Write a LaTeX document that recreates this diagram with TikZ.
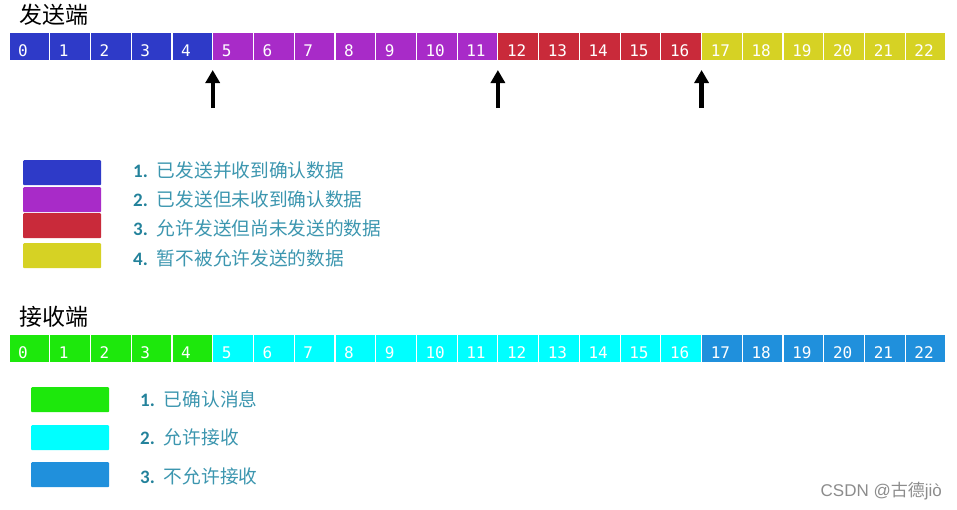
\documentclass[tikz,border=0pt]{standalone}
\usepackage{fontspec}
\setmainfont{Carlito}
\newfontfamily\cjk{Noto Sans CJK SC}
\newfontfamily\monofnt{DejaVu Sans Mono}
\newfontfamily\numfnt{Carlito}
\usetikzlibrary{arrows.meta}
\definecolor{sblue}{RGB}{46,58,200}
\definecolor{spurple}{RGB}{168,43,200}
\definecolor{sred}{RGB}{201,42,58}
\definecolor{syellow}{RGB}{214,210,36}
\definecolor{rgreen}{RGB}{29,232,12}
\definecolor{rcyan}{RGB}{0,255,255}
\definecolor{rblue}{RGB}{32,144,220}
\definecolor{legnum}{RGB}{35,130,155}
\definecolor{legtext}{RGB}{60,150,175}
\definecolor{wmark}{RGB}{140,140,140}
\newcommand{\legnum}[1]{{\numfnt\bfseries\fontsize{19}{20}\selectfont\color{legnum}#1}\hspace{9pt}}
\begin{document}
\begin{tikzpicture}[x=1pt,y=-1pt,
  cell/.style={draw=white, line width=1.2pt, minimum width=40.74pt, minimum height=29pt, inner sep=0pt, outer sep=0pt, anchor=north west},
  num/.style={text=white, font=\monofnt\fontsize{16}{17}\selectfont, inner sep=0pt, anchor=base west},
  title/.style={font=\cjk\fontsize{23}{24}\selectfont, inner sep=0pt, anchor=base west},
  legbox/.style={minimum width=78pt, minimum height=25pt, inner sep=0pt, anchor=north west, rounded corners=1pt},
  legtxt/.style={text=legtext, font=\cjk\fontsize{18.7}{20}\selectfont, inner sep=0pt, anchor=base west},
  arr/.style={line width=4.2pt, -{Triangle[width=14pt,length=13pt]}}
]
\useasboundingbox (0,0) rectangle (957,509);
% sender
\node[title] (st) at (19,23) {发送端};
\foreach \i in {0,...,4}   {\node[cell, fill=sblue]   (s\i) at ({9+40.74*\i},32) {};}
\foreach \i in {5,...,11}  {\node[cell, fill=spurple] (s\i) at ({9+40.74*\i},32) {};}
\foreach \i in {12,...,16} {\node[cell, fill=sred]    (s\i) at ({9+40.74*\i},32) {};}
\foreach \i in {17,...,22} {\node[cell, fill=syellow] (s\i) at ({9+40.74*\i},32) {};}
\foreach \i in {0,...,22}  {\node[num] (sn\i) at ({9+40.74*\i+9},56) {\i};}
% arrows
\coordinate (a1b) at ({9+40.74*5},108);  \coordinate (a1t) at ({9+40.74*5},70);
\coordinate (a2b) at ({9+40.74*12},108); \coordinate (a2t) at ({9+40.74*12},70);
\coordinate (a3b) at ({9+40.74*17},108); \coordinate (a3t) at ({9+40.74*17},70);
\draw[arr] (a1b) -- (a1t);
\draw[arr] (a2b) -- (a2t);
\draw[arr] (a3b) -- (a3t);
% sender legend
\node[legbox, fill=sblue]   (lb1) at (23,160) {};
\node[legbox, fill=spurple] (lb2) at (23,187) {};
\node[legbox, fill=sred]    (lb3) at (23,213) {};
\node[legbox, fill=syellow] (lb4) at (23,243) {};
\node[legtxt] (lt1) at (133,177) {\legnum{1.}已发送并收到确认数据};
\node[legtxt] (lt2) at (133,206) {\legnum{2.}已发送但未收到确认数据};
\node[legtxt] (lt3) at (133,235) {\legnum{3.}允许发送但尚未发送的数据};
\node[legtxt] (lt4) at (133,265) {\legnum{4.}暂不被允许发送的数据};
% receiver
\node[title] (rt) at (19,325) {接收端};
\foreach \i in {0,...,4}   {\node[cell, fill=rgreen] (r\i) at ({9+40.74*\i},334) {};}
\foreach \i in {5,...,16}  {\node[cell, fill=rcyan]  (r\i) at ({9+40.74*\i},334) {};}
\foreach \i in {17,...,22} {\node[cell, fill=rblue]  (r\i) at ({9+40.74*\i},334) {};}
\foreach \i in {0,...,22}  {\node[num] (rn\i) at ({9+40.74*\i+9},358) {\i};}
% receiver legend
\node[legbox, fill=rgreen] (rb1) at (31,387) {};
\node[legbox, fill=rcyan]  (rb2) at (31,425) {};
\node[legbox, fill=rblue]  (rb3) at (31,462) {};
\node[legtxt] (rl1) at (140,406) {\legnum{1.}已确认消息};
\node[legtxt] (rl2) at (140,444) {\legnum{2.}允许接收};
\node[legtxt] (rl3) at (140,483) {\legnum{3.}不允许接收};
% watermark
\node[text=wmark, font=\fontspec{Liberation Sans}\fontsize{17}{18}\selectfont, inner sep=0pt, anchor=base east] (wm) at (942,496) {CSDN @{\cjk 古德}jiò};
\end{tikzpicture}
\end{document}
